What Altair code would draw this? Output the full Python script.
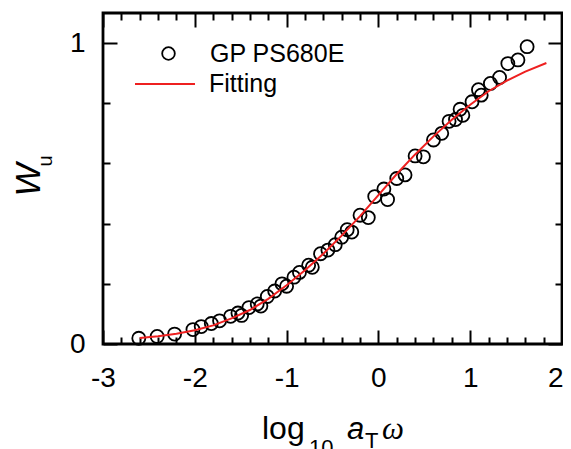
import altair as alt
import pandas as pd

# ---- data ----
x_obs = [-2.61, -2.41, -2.22, -2.02, -1.93, -1.82, -1.73, -1.61, -1.53, -1.49,
         -1.41, -1.32, -1.28, -1.21, -1.13, -1.05, -1.00, -0.92, -0.86, -0.76,
         -0.72, -0.63, -0.55, -0.47, -0.40, -0.34, -0.29, -0.20, -0.11, -0.04,
         0.06, 0.10, 0.20, 0.29, 0.40, 0.49, 0.60, 0.69, 0.77, 0.84,
         0.89, 0.92, 1.02, 1.09, 1.12, 1.22, 1.32, 1.41, 1.52, 1.62]
w_obs = [0.019, 0.025, 0.033, 0.048, 0.058, 0.068, 0.077, 0.092, 0.103, 0.095,
         0.121, 0.133, 0.126, 0.158, 0.176, 0.200, 0.192, 0.222, 0.238, 0.262,
         0.255, 0.300, 0.312, 0.330, 0.355, 0.380, 0.372, 0.428, 0.420, 0.490,
         0.515, 0.480, 0.550, 0.562, 0.625, 0.622, 0.678, 0.700, 0.740, 0.746,
         0.780, 0.760, 0.805, 0.845, 0.827, 0.866, 0.886, 0.932, 0.944, 0.988]

x_fit = [-2.6, -2.4, -2.2, -2.0, -1.8, -1.6, -1.4, -1.2, -1.0, -0.8, -0.6, -0.4,
         -0.2, 0.0, 0.2, 0.4, 0.6, 0.8, 1.0, 1.2, 1.4, 1.6, 1.83]
w_fit = [0.020, 0.026, 0.034, 0.046, 0.062, 0.085, 0.113, 0.150, 0.195, 0.245,
         0.300, 0.360, 0.425, 0.495, 0.565, 0.630, 0.690, 0.745, 0.795, 0.840,
         0.875, 0.905, 0.934]

series_names = ["GP PS680E", "Fitting"]

x_major = [-3, -2, -1, 0, 1, 2]
x_minor = [round(-3 + 0.2 * i, 1) for i in range(26) if i % 5 != 0]
y_major = [0, 1]
y_minor = [0.2, 0.4, 0.6, 0.8]

FONT = "Liberation Sans"
RED = "#ee2020"

pts = pd.DataFrame({"x": x_obs, "w": w_obs, "series": series_names[0]})
fit = pd.DataFrame({"x": x_fit, "w": w_fit, "series2": series_names[1]})

xs = alt.Scale(domain=[-3, 2], nice=False, zero=False)
ys = alt.Scale(domain=[0, 1.1], nice=False, zero=False)


def tick_axis(orient, values, size):
    return alt.Axis(orient=orient, values=values, labels=False, domain=False,
                    grid=False, ticks=True, tickSize=size, offset=-size,
                    tickWidth=2, tickColor="black", title=None)


def label_axis(orient, values, pad, **kw):
    return alt.Axis(orient=orient, values=values, ticks=False, domain=False,
                    grid=False, labelFont=FONT, labelFontSize=28,
                    labelExpr="datum.value + ''", labelFlush=False,
                    labelOverlap=False, labelColor="black",
                    labelPadding=pad, title=None, **kw)


points = alt.Chart(pts).mark_point(filled=False, size=170, strokeWidth=1.8,
                                   color="black", opacity=1).encode(
    x=alt.X("x:Q", scale=xs, axis=label_axis("bottom", x_major[:-1], 20)),
    y=alt.Y("w:Q", scale=ys, axis=label_axis("left", y_major, 18)),
    shape=alt.Shape("series:N", scale=alt.Scale(range=["circle"]),
                    legend=alt.Legend(orient="none", legendX=53, legendY=28,
                                      title=None, padding=0, labelFont=FONT,
                                      labelFontSize=25, labelColor="black",
                                      symbolSize=160, symbolStrokeWidth=1.8,
                                      symbolStrokeColor="black",
                                      symbolFillColor="transparent",
                                      labelOffset=29)),
)

line = alt.Chart(fit).mark_line(strokeWidth=2).encode(
    x=alt.X("x:Q", scale=xs, axis=tick_axis("bottom", x_major, 14)),
    y=alt.Y("w:Q", scale=ys, axis=tick_axis("left", y_major, 14)),
    color=alt.Color("series2:N", scale=alt.Scale(range=[RED]),
                    legend=alt.Legend(orient="none", legendX=31, legendY=40,
                                      title=None, padding=0, labelFont=FONT,
                                      labelFontSize=25, labelColor="black",
                                      symbolType="stroke", symbolSize=3600,
                                      symbolStrokeWidth=2, labelOffset=13)),
)


def ghost(xa, ya):
    return alt.Chart(pts).mark_point(opacity=0).encode(
        x=alt.X("x:Q", scale=xs, axis=xa),
        y=alt.Y("w:Q", scale=ys, axis=ya),
    )


g1 = ghost(tick_axis("bottom", x_minor, 7), tick_axis("left", y_minor, 7))
g2 = ghost(tick_axis("top", x_major, 14), tick_axis("right", y_major, 14))
g3 = ghost(tick_axis("top", x_minor, 7), tick_axis("right", y_minor, 7))
g4 = ghost(label_axis("bottom", x_major[-1:], 20, labelAlign="right", labelOffset=1),
           None)


def label(text, x, y, size, style="normal", font=FONT, angle=0, align="left"):
    return alt.Chart(pd.DataFrame({"t": [text]})).mark_text(
        font=font, fontSize=size, fontStyle=style, color="black",
        align=align, baseline="alphabetic", angle=angle,
    ).encode(text="t:N", x=alt.value(x), y=alt.value(y))


titles = [
    label("log", 159, 426, 32),
    label("10", 206, 442, 22),
    label("a", 244, 426, 31, style="italic"),
    label("T", 262, 435, 22),
    label("\u03c9", 279, 426, 31, style="italic", font="Liberation Serif"),
    label("W", -63, 167, 35, style="italic", angle=270, align="center"),
    label("u", -51, 148, 20, angle=270, align="center"),
]

chart = alt.layer(g1, g2, g3, g4, points, line, *titles).resolve_axis(
    x="independent", y="independent"
).properties(
    width=459, height=331, autosize="none",
    padding={"left": 95, "top": 5, "right": 1, "bottom": 105},
).configure_view(stroke="black", strokeWidth=2.8).configure_axis(grid=False)

chart.save("out.html", embed_options={"renderer": "svg", "actions": False})
